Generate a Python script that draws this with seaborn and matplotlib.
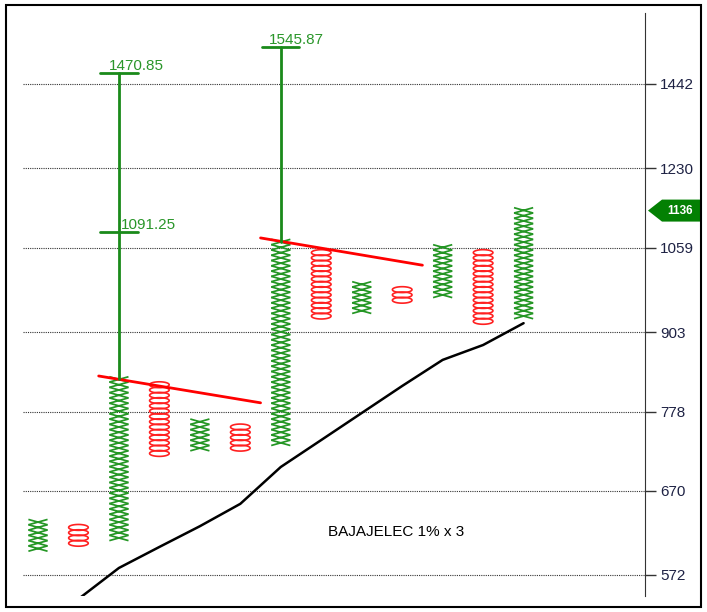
import numpy as np
import pandas as pd
import matplotlib
matplotlib.use("Agg")
import matplotlib.pyplot as plt
from matplotlib.path import Path
from matplotlib.patches import Rectangle, Polygon
from matplotlib.transforms import IdentityTransform
import seaborn as sns

# Point & figure columns (1% box, 3 box reversal)
col_kind = ["X", "O", "X", "O", "X", "O", "X", "O", "X", "O", "X", "O", "X"]
col_low = [601.2, 607.2, 613.3, 719.1, 726.3, 726.3, 733.6, 931.4, 940.7, 959.6, 969.2, 922.2, 931.4]
col_high = [631.8, 625.6, 826.6, 818.4, 763.3, 755.8, 1070.6, 1049.5, 988.7, 978.9, 1060.0, 1049.5, 1136.5]
box_pct = 1.0

# black trend line
trend_col = [1, 2, 3, 4, 5, 6, 7, 8, 9, 10, 11, 12]
trend_val = [546.7, 579.6, 603, 627, 654, 701, 737.5, 776, 816.5, 857.6, 882, 919]

# red resistance lines
res1_col = [1.5, 5.5]
res1_val = [832, 791]
res2_col = [5.5, 9.5]
res2_val = [1079, 1025]

# green price targets
target_col = [2, 6]
target_from = [826.6, 1070.6]
target_top = [1470.85, 1545.87]
mark_col = [2, 2, 6]
mark_val = [1470.85, 1091.25, 1545.87]
mark_text = ["1470.85", "1091.25", "1545.87"]
mark_dx = [-10, 2, -12]

y_ticks = [572, 670, 778, 903, 1059, 1230, 1442]
last_price = 1136
title = "BAJAJELEC 1% x 3"

sns.set_style("white")
plt.rcParams["font.family"] = ["Liberation Sans", "DejaVu Sans"]

# expand the columns into boxes
step = 1 + box_pct / 100
rows = []
for i, (kind, lo, hi) in enumerate(zip(col_kind, col_low, col_high)):
    n = int(round(np.log(hi / lo) / np.log(step))) + 1
    for j in range(n):
        rows.append((i, lo * step ** j, kind))
boxes = pd.DataFrame(rows, columns=["col", "price", "kind"])

r = 0.28
x_marker = Path([(-1, -r), (1, r), (-1, r), (1, -r)],
                [Path.MOVETO, Path.LINETO, Path.MOVETO, Path.LINETO])
t = np.linspace(0, 2 * np.pi, 41)
o_marker = Path(np.column_stack([np.cos(t), 0.3 * np.sin(t)]), closed=True)

fig = plt.figure(figsize=(7.07, 6.12), dpi=100)
ax = fig.add_axes([23 / 707, 16 / 612, 622 / 707, 583 / 612])
ax.set_yscale("log")

green = "#249624"
red = "#ff2020"

xs = boxes[boxes["kind"] == "X"]
os_ = boxes[boxes["kind"] == "O"]
sns.scatterplot(data=xs, x="col", y="price", marker=x_marker, s=190,
                color=green, edgecolor=green, facecolor="none", linewidth=1.25, ax=ax, zorder=3)
sns.scatterplot(data=os_, x="col", y="price", marker=o_marker, s=200,
                color=red, edgecolor=red, facecolor="none", linewidth=1.2, ax=ax, zorder=3)

sns.lineplot(x=trend_col, y=trend_val, color="black", linewidth=1.8, sort=False, ax=ax, zorder=4)
sns.lineplot(x=res1_col, y=res1_val, color="#ff0000", linewidth=2.0, sort=False, ax=ax, zorder=4)
sns.lineplot(x=res2_col, y=res2_val, color="#ff0000", linewidth=2.0, sort=False, ax=ax, zorder=4)

for c, lo, hi in zip(target_col, target_from, target_top):
    ax.plot([c, c], [lo, hi], color="#1a8a1a", linewidth=2.0, zorder=5)
for c, v, txt, dx in zip(mark_col, mark_val, mark_text, mark_dx):
    ax.plot([c - 0.46, c + 0.46], [v, v], color="#1a8a1a", linewidth=2.0, zorder=5)
    ax.annotate(txt, xy=(c, v), xytext=(dx, 3), textcoords="offset pixels",
                ha="left", va="baseline", fontsize=11, color="#2a962a", zorder=6)

ax.set_xlim(-0.37, 15.0)
ax.set_ylim(549.8, 1648)
ax.set_xticks([])
ax.yaxis.tick_right()
ax.set_yticks(y_ticks)
ax.set_yticklabels([str(v) for v in y_ticks])
ax.yaxis.set_minor_locator(matplotlib.ticker.NullLocator())
ax.tick_params(axis="y", direction="out", length=8, width=1, color="#333333",
               pad=3, labelsize=11, labelcolor="#1e2244")
ax.set_xlabel("")
ax.set_ylabel("")
ax.grid(axis="y", linestyle=(0, (1, 1)), color="#333333", linewidth=0.8)
ax.grid(axis="x", visible=False)
for s in ["left", "top", "bottom"]:
    ax.spines[s].set_visible(False)
ax.spines["right"].set_linestyle((0, (1, 1)))
ax.spines["right"].set_color("#333333")
ax.spines["right"].set_linewidth(0.8)

ax.text(0.6005, 0.11, title, transform=ax.transAxes, ha="center", va="center",
        fontsize=11, color="black")

# last price tag
yp = ax.transData.transform((0, last_price))[1]
tag = Polygon([(648, yp), (662, yp + 11), (701, yp + 11), (701, yp - 11), (662, yp - 11)],
              closed=True, facecolor="#038003", edgecolor="none", transform=IdentityTransform())
fig.add_artist(tag)
fig.text(680 / 707, yp / 612, str(last_price), ha="center", va="center",
         fontsize=8.5, fontweight="bold", color="white")

# outer frame
fig.add_artist(Rectangle((6 / 707, 5 / 612), 695 / 707, 602 / 612, transform=fig.transFigure,
                         fill=False, edgecolor="black", linewidth=1.5))

fig.savefig("out.png", dpi=100)
